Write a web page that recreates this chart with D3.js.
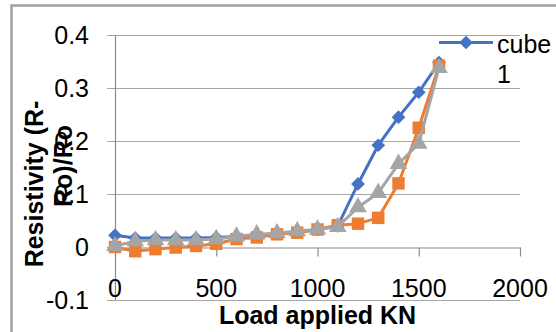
<!DOCTYPE html>
<html>
<head>
<meta charset="utf-8">
<script src="https://cdn.jsdelivr.net/npm/d3@7"></script>
<style>
  html, body { margin: 0; padding: 0; background: #fff; }
  svg { display: block; font-family: "Liberation Sans", Arial, sans-serif; }
</style>
</head>
<body>
<svg id="chart" width="556" height="332"></svg>
<script>
// Load steps (KN)
const loads = [0, 100, 200, 300, 400, 500, 600, 700, 800, 900, 1000, 1100, 1200, 1300, 1400, 1500, 1600];
// Fractional change in resistivity (R-Ro)/Ro
const cube1 = [0.022, 0.017, 0.017, 0.017, 0.017, 0.018, 0.02, 0.022, 0.025, 0.028, 0.033, 0.04, 0.119, 0.192, 0.245, 0.292, 0.348];
const cube2 = [0.0, -0.008, -0.004, -0.001, 0.002, 0.006, 0.015, 0.018, 0.024, 0.027, 0.033, 0.041, 0.044, 0.055, 0.12, 0.225, 0.342];
const cube3 = [0.002, 0.011, 0.013, 0.013, 0.013, 0.015, 0.02, 0.024, 0.026, 0.03, 0.033, 0.038, 0.075, 0.102, 0.157, 0.195, 0.338];
const xTicks = [0, 500, 1000, 1500, 2000];
const yTicks = [-0.1, 0, 0.1, 0.2, 0.3, 0.4];
const legendLabel = "cube 1";

const svg = d3.select("#chart");
const x = d3.scaleLinear().domain([0, 2000]).range([115, 520]);
const y = d3.scaleLinear().domain([-0.1, 0.4]).range([300, 35]);

const gridColor = "#a6a6a6";
const axisColor = "#8c8c8c";

// outer chart frame (left and top edges)
svg.append("path")
  .attr("d", "M11.5,332 V5.5 H556")
  .attr("fill", "none").attr("stroke", "#a0a0a0").attr("stroke-width", 2.5);

// horizontal gridlines with outside ticks
svg.append("g").selectAll("line").data(yTicks.filter(d => d !== 0)).join("line")
  .attr("x1", 107).attr("x2", x(2000))
  .attr("y1", d => Math.round(y(d)) + 0.5).attr("y2", d => Math.round(y(d)) + 0.5)
  .attr("stroke", gridColor).attr("stroke-width", 1.2);
svg.append("line")
  .attr("x1", 107).attr("x2", x(0))
  .attr("y1", Math.round(y(0)) + 0.5).attr("y2", Math.round(y(0)) + 0.5)
  .attr("stroke", gridColor).attr("stroke-width", 1.2);

// vertical axis line
svg.append("line")
  .attr("x1", x(0) + 0.5).attr("x2", x(0) + 0.5)
  .attr("y1", y(0.4)).attr("y2", y(-0.1))
  .attr("stroke", axisColor).attr("stroke-width", 1.2);

// horizontal axis at zero with ticks pointing down
const xAxis = svg.append("g")
  .attr("transform", `translate(0,${Math.round(y(0)) + 0.5})`)
  .call(d3.axisBottom(x).tickValues(xTicks).tickSize(9).tickSizeOuter(0).tickFormat(""));
xAxis.select(".domain").attr("stroke", axisColor).attr("stroke-width", 1.2);
xAxis.selectAll(".tick line").attr("stroke", axisColor).attr("stroke-width", 1.2);

// x tick labels sit low, just above the -0.1 gridline
svg.append("g").selectAll("text").data(xTicks).join("text")
  .attr("x", d => x(d)).attr("y", 297)
  .attr("text-anchor", "middle")
  .attr("font-size", 25).attr("fill", "#000")
  .text(d => d);

// y tick labels
svg.append("g").selectAll("text").data(yTicks).join("text")
  .attr("x", 89).attr("y", d => y(d) + 9)
  .attr("text-anchor", "end")
  .attr("font-size", 25).attr("fill", "#000")
  .text(d => d);

// axis titles
svg.append("text")
  .attr("x", x(1000)).attr("y", 324)
  .attr("text-anchor", "middle")
  .attr("font-size", 25).attr("font-weight", "bold")
  .text("Load applied KN");

const yTitle = svg.append("g").attr("font-size", 25).attr("font-weight", "bold");
yTitle.append("text")
  .attr("transform", "translate(43,184) rotate(-90)")
  .attr("text-anchor", "middle")
  .text("Resistivity (R-");
yTitle.append("text")
  .attr("transform", "translate(72,166) rotate(-90)")
  .attr("text-anchor", "middle")
  .text("Ro)/Ro");

// series
const series = [
  { name: "cube3", values: cube3, color: "#A5A5A5", marker: d3.symbolTriangle, size: 135 },
  { name: "cube2", values: cube2, color: "#ED7D31", marker: d3.symbolSquare, size: 155 },
  { name: "cube1", values: cube1, color: "#4472C4", marker: d3.symbolDiamond2, size: 120 }
];
const drawOrder = [series[2], series[1], series[0]];

const line = d3.line().x((d, i) => x(loads[i])).y(d => y(d));

drawOrder.forEach(s => {
  const g = svg.append("g");
  g.append("path")
    .attr("d", line(s.values))
    .attr("fill", "none").attr("stroke", s.color)
    .attr("stroke-width", 3).attr("stroke-linejoin", "round");
  g.selectAll("path.m").data(s.values).join("path")
    .attr("class", "m")
    .attr("transform", (d, i) => `translate(${x(loads[i])},${y(d)})`)
    .attr("d", d3.symbol().type(s.marker).size(s.size))
    .attr("fill", s.color);
});

// legend
const lg = svg.append("g");
lg.append("line")
  .attr("x1", 439).attr("x2", 493).attr("y1", 42.5).attr("y2", 42.5)
  .attr("stroke", "#4472C4").attr("stroke-width", 3);
lg.append("path")
  .attr("transform", "translate(466,42.5)")
  .attr("d", d3.symbol().type(d3.symbolDiamond2).size(120))
  .attr("fill", "#4472C4");
const lgText = lg.append("text").attr("font-size", 25).attr("fill", "#000");
lgText.append("tspan").attr("x", 497).attr("y", 53).text(legendLabel.split(" ")[0]);
lgText.append("tspan").attr("x", 497).attr("y", 83).text(legendLabel.split(" ")[1]);
</script>
</body>
</html>
